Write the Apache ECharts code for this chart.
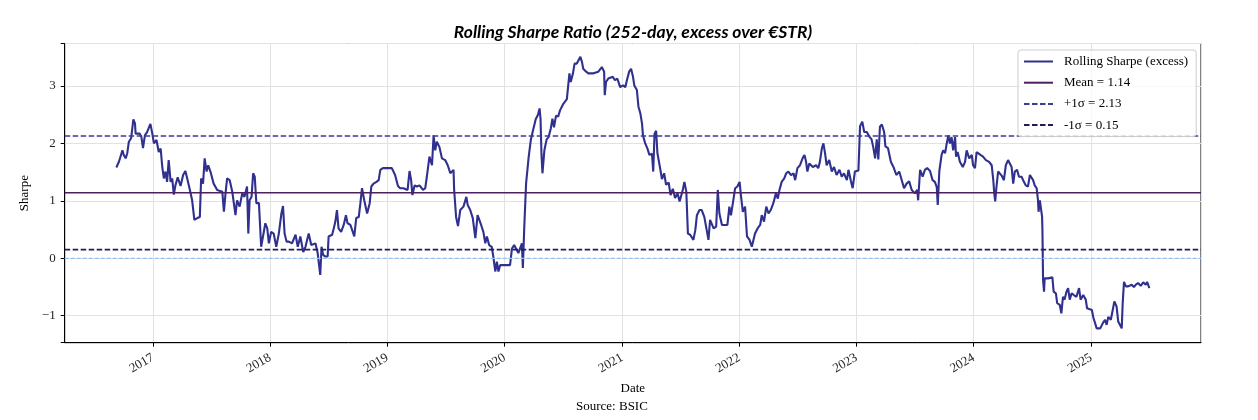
<!DOCTYPE html>
<html>
<head>
<meta charset="utf-8">
<script src="https://cdn.jsdelivr.net/npm/echarts@6/dist/echarts.min.js"></script>
<style>
html,body{margin:0;padding:0;background:#fff;}
#chart{width:1258px;height:420px;}
</style>
</head>
<body>
<div id="chart"></div>
<script>
const dates = [
'2016-09-09','2016-09-17','2016-09-22','2016-09-28','2016-10-02','2016-10-08','2016-10-13','2016-10-18','2016-10-25','2016-11-01',
'2016-11-06','2016-11-08','2016-11-13','2016-11-21','2016-11-26','2016-12-01','2016-12-07','2016-12-14','2016-12-24','2016-12-30',
'2017-01-04','2017-01-12','2017-01-19','2017-01-25','2017-01-30','2017-02-04','2017-02-09','2017-02-14','2017-02-19','2017-02-25',
'2017-03-02','2017-03-07','2017-03-12','2017-03-19','2017-03-28','2017-04-05','2017-04-12','2017-04-19','2017-04-26','2017-05-03',
'2017-05-10','2017-05-19','2017-05-27','2017-05-31','2017-06-06','2017-06-11','2017-06-17','2017-06-22','2017-06-29','2017-07-09',
'2017-07-20','2017-08-05','2017-08-10','2017-08-15','2017-08-20','2017-08-28','2017-09-05','2017-09-10','2017-09-15','2017-09-20',
'2017-09-28','2017-10-06','2017-10-13','2017-10-21','2017-10-25','2017-10-29','2017-11-04','2017-11-09','2017-11-14','2017-11-19',
'2017-11-27','2017-12-04','2017-12-10','2017-12-17','2017-12-23','2017-12-28',
'2018-01-04','2018-01-12','2018-01-20','2018-01-28','2018-02-05','2018-02-10','2018-02-15','2018-02-21','2018-02-28','2018-03-10',
'2018-03-21','2018-03-28','2018-04-05','2018-04-14','2018-04-21','2018-05-01','2018-05-09','2018-05-22','2018-05-29','2018-06-01',
'2018-06-06','2018-06-10','2018-06-15','2018-06-22','2018-06-29','2018-07-02','2018-07-13','2018-07-18','2018-07-23','2018-07-28',
'2018-08-02','2018-08-10','2018-08-18','2018-08-25','2018-08-30','2018-09-08','2018-09-20','2018-09-26','2018-10-04','2018-10-09',
'2018-10-14','2018-10-21','2018-10-30','2018-11-07','2018-11-12','2018-11-19','2018-11-28','2018-12-05','2018-12-10','2018-12-18',
'2018-12-31',
'2019-01-15','2019-01-20','2019-01-25','2019-02-03','2019-02-10','2019-02-20','2019-03-05','2019-03-11','2019-03-16','2019-03-20',
'2019-03-27','2019-04-03','2019-04-11','2019-04-22','2019-04-29','2019-05-04','2019-05-12','2019-05-20','2019-05-25','2019-05-30',
'2019-06-04','2019-06-12','2019-06-20','2019-06-30','2019-07-08','2019-07-16','2019-07-26','2019-07-28','2019-08-03','2019-08-09',
'2019-08-16','2019-08-26','2019-09-04','2019-09-08','2019-09-16','2019-09-24','2019-10-02','2019-10-09','2019-10-15','2019-10-20',
'2019-10-27','2019-11-02','2019-11-07','2019-11-14','2019-11-22','2019-11-27','2019-12-03','2019-12-08','2019-12-13','2019-12-18',
'2020-01-03','2020-01-18','2020-01-24','2020-01-31','2020-02-06','2020-02-13','2020-02-24','2020-02-27','2020-03-02','2020-03-08',
'2020-03-16','2020-03-23','2020-03-31','2020-04-07','2020-04-14','2020-04-19','2020-04-22','2020-04-25','2020-04-28','2020-05-04',
'2020-05-11','2020-05-17','2020-05-24','2020-05-29','2020-06-03','2020-06-09','2020-06-16','2020-06-22','2020-07-02','2020-07-13',
'2020-07-21','2020-07-25','2020-08-01','2020-08-06','2020-08-13','2020-08-18','2020-08-24','2020-08-29','2020-09-02','2020-09-11',
'2020-09-18','2020-10-04','2020-10-19','2020-10-30','2020-11-06','2020-11-08','2020-11-12','2020-11-19','2020-11-25','2020-12-03',
'2020-12-10','2020-12-17','2020-12-26',
'2021-01-04','2021-01-11','2021-01-16','2021-01-23','2021-01-29','2021-02-04','2021-02-08','2021-02-16','2021-02-21','2021-02-27',
'2021-03-04','2021-03-07','2021-03-14','2021-03-21','2021-03-27','2021-04-04','2021-04-08','2021-04-12','2021-04-17','2021-04-21',
'2021-04-30','2021-05-05','2021-05-12','2021-05-18','2021-05-26','2021-06-01','2021-06-08','2021-06-15','2021-06-23','2021-06-29',
'2021-07-09','2021-07-14','2021-07-20','2021-07-25','2021-08-01','2021-08-06','2021-08-11','2021-08-17','2021-08-22','2021-08-30',
'2021-09-06','2021-09-14','2021-09-20','2021-09-27','2021-10-02','2021-10-08','2021-10-13','2021-10-21','2021-10-26','2021-10-31',
'2021-11-08','2021-11-25','2021-12-01','2021-12-06','2021-12-12','2021-12-19','2021-12-26',
'2022-01-02','2022-01-06','2022-01-12','2022-01-19','2022-01-25','2022-02-02','2022-02-09','2022-02-14','2022-02-19','2022-02-27',
'2022-03-07','2022-03-12','2022-03-19','2022-03-26','2022-04-02','2022-04-09','2022-04-17','2022-04-25','2022-05-01','2022-05-06',
'2022-05-13','2022-05-21','2022-05-27','2022-06-03','2022-06-11','2022-06-19','2022-06-24','2022-07-01','2022-07-09','2022-07-17',
'2022-07-23','2022-07-28','2022-08-01','2022-08-07','2022-08-18','2022-08-28','2022-09-04','2022-09-09','2022-09-15','2022-09-20',
'2022-09-25','2022-09-30','2022-10-08','2022-10-16','2022-10-23','2022-10-31','2022-11-09','2022-11-16','2022-11-23','2022-12-02',
'2022-12-07','2022-12-14','2022-12-20','2022-12-27',
'2023-01-07','2023-01-12','2023-01-19','2023-01-25','2023-02-02','2023-02-10','2023-02-17','2023-02-22','2023-02-28','2023-03-05',
'2023-03-10','2023-03-15','2023-03-21','2023-03-28','2023-04-01','2023-04-09','2023-04-18','2023-04-26','2023-05-05','2023-05-14',
'2023-05-22','2023-05-29','2023-06-06','2023-06-14','2023-06-22','2023-07-02','2023-07-09','2023-07-12','2023-07-18','2023-07-26',
'2023-08-02','2023-08-09','2023-08-18','2023-08-26','2023-09-02','2023-09-08','2023-09-11','2023-09-16','2023-09-23','2023-09-28',
'2023-10-04','2023-10-09','2023-10-14','2023-10-19','2023-10-24','2023-10-29','2023-11-04','2023-11-07','2023-11-12','2023-11-19',
'2023-11-28','2023-12-05','2023-12-10','2023-12-18','2023-12-26','2023-12-30',
'2024-01-05','2024-01-10','2024-01-15','2024-01-22','2024-01-30','2024-02-08','2024-02-18','2024-02-26','2024-03-02','2024-03-05',
'2024-03-08','2024-03-12','2024-03-17','2024-03-28','2024-04-04','2024-04-10','2024-04-17','2024-04-23','2024-04-28','2024-05-03',
'2024-05-08','2024-05-15','2024-05-21','2024-05-29','2024-06-03','2024-06-11','2024-06-18','2024-06-24','2024-06-29','2024-07-04',
'2024-07-09','2024-07-15','2024-07-19','2024-07-21','2024-07-25','2024-07-30','2024-08-01','2024-08-02','2024-08-04','2024-08-07',
'2024-08-09','2024-08-20','2024-09-02','2024-09-06','2024-09-13','2024-09-17','2024-09-25','2024-09-30','2024-10-05','2024-10-10',
'2024-10-16','2024-10-21','2024-10-26','2024-11-01','2024-11-08','2024-11-16','2024-11-24','2024-11-29','2024-12-07','2024-12-15',
'2024-12-19','2024-12-25',
'2025-01-03','2025-01-08','2025-01-13','2025-01-18','2025-01-29','2025-02-06','2025-02-13','2025-02-18','2025-02-23','2025-03-03',
'2025-03-09','2025-03-14','2025-03-21','2025-03-26','2025-04-01','2025-04-06','2025-04-09','2025-04-13','2025-04-19','2025-04-26',
'2025-05-07','2025-05-14','2025-05-20','2025-05-27','2025-06-04','2025-06-12','2025-06-20','2025-06-24','2025-07-01'
];
const sharpe = [
1.58,1.68,1.66,1.88,1.80,1.74,1.83,2.03,2.09,2.42,
2.35,2.17,2.18,2.17,2.11,1.92,2.14,2.20,2.34,2.17,
2.00,2.06,1.85,1.91,1.59,1.39,1.51,1.33,1.71,1.33,
1.39,1.11,1.27,1.41,1.26,1.45,1.52,1.36,1.19,1.01,
0.67,0.70,0.72,1.39,1.30,1.74,1.51,1.62,1.51,1.30,
1.19,1.16,0.81,1.13,1.39,1.36,1.16,1.13,0.75,1.01,
0.90,1.13,1.07,1.25,0.43,1.01,1.07,1.48,1.42,0.96,
0.96,0.20,0.20,0.61,0.52,0.26,
0.46,0.43,0.20,0.43,0.78,0.91,0.43,0.29,0.29,0.26,
0.41,0.20,0.38,0.11,0.20,0.43,0.23,0.26,0.09,-0.06,
-0.29,0.20,0.06,0.03,0.03,0.38,0.41,0.52,0.64,0.84,
0.52,0.46,0.58,0.75,0.61,0.58,0.38,0.70,0.72,0.96,
1.22,1.01,0.78,0.96,1.25,1.30,1.33,1.36,1.54,1.57,
1.57,
1.57,1.59,1.45,1.26,1.22,1.22,1.19,1.52,1.36,1.10,
1.27,1.25,1.27,1.19,1.22,1.42,1.77,1.62,2.14,1.88,
2.03,1.94,1.74,1.71,1.62,1.48,1.54,1.19,0.72,0.56,
0.84,0.90,1.07,0.93,0.84,0.70,0.35,0.75,0.78,0.58,
0.46,0.26,0.38,0.23,0.20,0.03,-0.23,-0.06,-0.23,-0.12,
-0.12,-0.12,0.17,0.23,0.26,0.09,0.26,-0.17,0.49,1.30,
1.76,2.07,2.26,2.42,2.50,2.61,2.43,1.80,1.48,1.88,
2.07,2.11,2.26,2.43,2.28,2.48,2.47,2.58,2.69,2.77,
3.22,3.07,3.22,3.39,3.39,3.36,3.51,3.42,3.30,3.25,
3.22,3.22,3.25,3.33,3.25,2.84,3.07,3.13,3.10,3.16,
3.10,3.13,2.98,
3.01,2.98,3.10,3.25,3.30,3.16,3.01,2.93,2.64,2.52,
2.35,2.14,2.00,1.91,1.80,1.82,1.51,2.17,2.22,1.83,
1.55,1.38,1.48,1.28,1.32,1.10,1.21,1.05,1.13,0.99,
1.19,1.33,1.16,0.43,0.41,0.43,0.32,0.49,0.75,0.84,
0.84,0.72,0.72,0.32,0.67,0.67,0.52,0.55,1.19,0.78,
0.58,0.58,0.90,0.75,0.96,1.22,1.25,
1.33,1.10,0.81,0.90,0.38,0.32,0.20,0.17,0.43,0.52,
0.58,0.75,0.64,0.90,0.78,0.84,0.96,1.13,1.04,1.19,
1.33,1.39,1.48,1.51,1.45,1.48,1.36,1.57,1.62,1.74,
1.80,1.68,1.51,1.65,1.59,1.62,1.57,1.68,1.91,2.00,
1.83,1.62,1.71,1.51,1.59,1.45,1.54,1.42,1.48,1.36,
1.54,1.36,1.22,1.51,
1.53,2.30,2.38,2.20,2.20,2.12,2.07,1.94,1.74,2.07,
1.72,2.29,2.33,2.20,1.95,1.92,1.68,1.59,1.45,1.51,
1.36,1.22,1.30,1.34,1.19,1.13,1.19,1.01,1.54,1.42,
1.54,1.57,1.52,1.36,1.33,1.24,0.93,1.52,1.80,1.88,
1.83,2.00,2.14,2.00,2.11,1.88,2.11,1.77,1.85,1.68,
1.59,1.68,1.88,1.74,1.80,1.62,
1.57,1.85,1.88,1.80,1.77,1.71,1.68,1.62,1.36,1.13,
0.99,1.25,1.51,1.44,1.36,1.62,1.71,1.68,1.59,1.30,
1.51,1.54,1.42,1.42,1.36,1.27,1.25,1.45,1.48,1.36,
1.27,1.22,1.02,0.81,1.01,0.99,0.72,0.50,-0.38,-0.58,
-0.35,-0.35,-0.33,-0.58,-0.61,-0.78,-0.81,-0.96,-0.67,-0.72,
-0.58,-0.52,-0.72,-0.61,-0.64,-0.67,-0.52,-0.72,-0.64,-0.72,
-0.87,-0.84,
-0.90,-1.04,-1.13,-1.22,-1.22,-1.13,-1.07,-1.16,-1.02,-1.07,
-0.90,-0.75,-0.84,-1.10,-1.13,-1.22,-0.78,-0.41,-0.49,-0.49,
-0.46,-0.50,-0.46,-0.43,-0.48,-0.42,-0.46,-0.41,-0.52
];
const meanValue = 1.14;
const plusSigma = 2.13;
const minusSigma = 0.15;
const zeroLevel = 0;
const yTickValues = [-1, 0, 1, 2, 3];

const serif = '"Liberation Serif", "DejaVu Serif", serif';
const ts = dates.map(d => new Date(d + 'T00:00:00Z').getTime());
const span = ts[ts.length - 1] - ts[0];
const xMin = ts[0] - 0.05 * span;
const xMax = ts[ts.length - 1] + 0.05 * span;
const mainData = ts.map((t, i) => [t, sharpe[i]]);
const hline = v => [[xMin, v], [xMax, v]];
const DAY = 24 * 3600 * 1000;

const chart = echarts.init(document.getElementById('chart'), null, {renderer: 'canvas'});
chart.setOption({
  animation: false,
  backgroundColor: '#ffffff',
  title: {
    text: 'Rolling Sharpe Ratio (252-day, excess over €STR)',
    left: 628, top: 18, textAlign: 'center',
    textStyle: {fontFamily: 'Lato, "Open Sans", sans-serif', fontStyle: 'italic', fontWeight: 'bold', fontSize: 17.5, color: '#000'}
  },
  graphic: [{
    type: 'text', left: 576, top: 400,
    style: {text: 'Source: BSIC', font: '13px ' + serif, fill: '#000'}
  }],
  legend: {
    orient: 'vertical', left: 1018, top: 50,
    padding: [5, 8, 5, 5],
    itemWidth: 29, itemHeight: 10, itemGap: 8.2,
    itemStyle: {opacity: 0},
    backgroundColor: 'rgba(255,255,255,0.8)', borderColor: '#cccccc', borderWidth: 1, borderRadius: 3,
    textStyle: {fontFamily: serif, fontSize: 13, color: '#000', padding: [0, 0, 0, 6]},
    data: ['Rolling Sharpe (excess)', 'Mean = 1.14', '+1σ = 2.13', '-1σ = 0.15']
  },
  grid: {left: 64.7, right: 57, top: 43.5, bottom: 77.3, show: true, borderColor: '#000', borderWidth: 1, backgroundColor: 'transparent', containLabel: false},
  xAxis: {
    type: 'time', min: xMin, max: xMax,
    splitNumber: 10, minInterval: 365 * DAY,
    name: 'Date', nameLocation: 'middle', nameGap: 39,
    nameTextStyle: {fontFamily: serif, fontSize: 13, color: '#000'},
    axisLine: {show: true, onZero: false, lineStyle: {color: '#000', width: 1}},
    axisTick: {show: true, length: 4, lineStyle: {color: '#000'}},
    axisLabel: {
      rotate: 30, fontFamily: serif, fontSize: 13, color: '#222', margin: 14,
      formatter: v => { const d = new Date(v); return (d.getUTCMonth() === 0 && d.getUTCDate() === 1) ? String(d.getUTCFullYear()) : ''; }
    },
    splitLine: {show: true, lineStyle: {color: '#e2e2e2', width: 1}}
  },
  yAxis: {
    type: 'value', min: -1.47, max: 3.74,
    name: 'Sharpe', nameLocation: 'middle', nameGap: 32,
    nameTextStyle: {fontFamily: serif, fontSize: 13, color: '#000'},
    axisLine: {show: true, lineStyle: {color: '#000', width: 1}},
    axisTick: {show: true, length: 4, lineStyle: {color: '#000'}},
    axisLabel: {
      fontFamily: serif, fontSize: 13, color: '#222', margin: 9,
      formatter: v => { const r = Math.round(v); if (Math.abs(v - r) > 1e-6 || yTickValues.indexOf(r) < 0) return ''; return r < 0 ? '\u2212' + Math.abs(r) : String(r); }
    },
    splitLine: {show: true, lineStyle: {color: '#e2e2e2', width: 1}}
  },
  series: [
    {name: 'Rolling Sharpe (excess)', type: 'line', data: mainData, symbol: 'none', showSymbol: false,
     lineStyle: {color: '#30308f', width: 2.1}, itemStyle: {color: '#30308f'}, z: 2},
    {name: 'zero', type: 'line', data: hline(zeroLevel), symbol: 'none', silent: true,
     lineStyle: {color: '#94c2f6', width: 1.2, type: [4, 2]}, itemStyle: {color: '#94c2f6'}, z: 3},
    {name: 'Mean = 1.14', type: 'line', data: hline(meanValue), symbol: 'none',
     lineStyle: {color: '#4e1f5e', width: 1.6}, itemStyle: {color: '#4e1f5e'}, z: 3},
    {name: '+1σ = 2.13', type: 'line', data: hline(plusSigma), symbol: 'none',
     lineStyle: {color: '#3b3b98', width: 1.6, type: [5.5, 2.5]}, itemStyle: {color: '#3b3b98'}, z: 3},
    {name: '-1σ = 0.15', type: 'line', data: hline(minusSigma), symbol: 'none',
     lineStyle: {color: '#1e1e55', width: 1.6, type: [5.5, 2.5]}, itemStyle: {color: '#1e1e55'}, z: 3}
  ]
});
</script>
</body>
</html>
